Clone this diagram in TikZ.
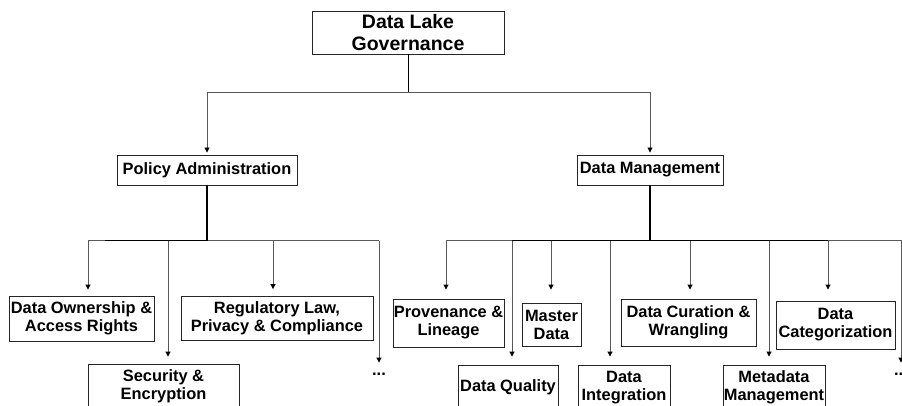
\documentclass[tikz,border=0pt]{standalone}
\usepackage{fontspec}
\setmainfont{Liberation Sans}
\usetikzlibrary{arrows.meta}
\begin{document}
\begin{tikzpicture}[x=1pt,y=-1pt,
  box/.style={draw=black!85, line width=0.9pt, fill=white, inner sep=0pt,
    align=center, font=\bfseries\fontsize{16.4}{18}\selectfont},
  topbox/.style={box, font=\bfseries\fontsize{19.5}{22}\selectfont},
  link/.style={draw=black!65, line width=0.9pt},
  stem/.style={draw=black, line width=1.1pt},
  feed/.style={link, -{Triangle[width=5pt,length=5pt,color=black]}},
  dots/.style={inner sep=0pt, font=\bfseries\fontsize{16.4}{18}\selectfont}]
\useasboundingbox (0,0) rectangle (902,406);
\clip (0,0) rectangle (902,406);

% root and first level
\node[topbox, minimum width=192pt, minimum height=43pt] (root) at (408,32.5) {Data Lake\\Governance};
\node[box, minimum width=180pt, minimum height=30pt] (pa) at (207,170) {Policy Administration};
\node[box, minimum width=146pt, minimum height=30pt] (dm) at (650,170) {Data Management};

% policy administration children
\node[box, minimum width=145pt, minimum height=45pt] (own) at (81.5,318.5) {Data Ownership \&\\Access Rights};
\node[box, minimum width=192pt, minimum height=44pt] (reg) at (277,318.5) {Regulatory Law,\\Privacy \& Compliance};
\node[box, minimum width=151pt, minimum height=45pt] (sec) at (163.5,386.5) {Security \&\\Encryption};
\node[dots] (pmore) at (379,374) {...};

% data management children
\node[box, minimum width=111pt, minimum height=48pt] (prov) at (448.5,323) {Provenance \&\\Lineage};
\node[box, minimum width=59pt, minimum height=43pt] (mast) at (551.5,324.5) {Master\\Data};
\node[box, minimum width=135pt, minimum height=47pt] (cur) at (688.5,322.5) {Data Curation \&\\Wrangling};
\node[box, minimum width=119pt, minimum height=48pt] (cat) at (835.5,325) {Data\\Categorization};
\node[box, minimum width=100pt, minimum height=45pt] (qual) at (508,387.5) {Data Quality};
\node[box, minimum width=92pt, minimum height=45pt] (integ) at (624,387.5) {Data\\Integration};
\node[box, minimum width=102pt, minimum height=45pt] (meta) at (774,387.5) {Metadata\\Management};
\node[dots] (dmore) at (901,374) {...};

% branch points
\coordinate (rootfork) at (408,92);
\coordinate (pafork) at (207,240.5);
\coordinate (dmfork) at (650,240.5);
\coordinate (p1) at (88,240.5);
\coordinate (p2) at (168,240.5);
\coordinate (p3) at (273,240.5);
\coordinate (p4) at (379,240.5);
\coordinate (pbold) at (105,240.5);
\coordinate (d1) at (446,240.5);
\coordinate (d2) at (512,240.5);
\coordinate (d3) at (551,240.5);
\coordinate (d4) at (610,240.5);
\coordinate (d5) at (690,240.5);
\coordinate (d6) at (769,240.5);
\coordinate (d7) at (828,240.5);
\coordinate (d8) at (901,240.5);

% root to first level
\draw[stem, line width=0.9pt] (root.south) -- (rootfork);
\draw[feed, shorten >=2pt] (rootfork) -| (pa.north);
\draw[feed, shorten >=2pt] (rootfork) -| (dm.north);

% policy administration branch
\draw[link] (p1) -- (p4);
\draw[stem] (pbold) -- (pafork);
\draw[stem] (pa.south) -- (pafork);
\draw[feed, shorten >=6pt] (p1) -- (p1 |- own.north);
\draw[feed, shorten >=7pt] (p2) -- (p2 |- sec.north);
\draw[feed, shorten >=7pt] (p3) -- (p3 |- reg.north);
\draw[feed, shorten >=10pt] (p4) -- (p4 |- pmore.north);

% data management branch
\draw[link] (d1) -- (d8) -- ++(5,0);
\draw[stem, line width=1pt] (d2) -- (d7);
\draw[stem] (dm.south) -- (dmfork);
\draw[feed, shorten >=9pt] (d1) -- (d1 |- prov.north);
\draw[feed, shorten >=8pt] (d2) -- (d2 |- qual.north);
\draw[feed, shorten >=13pt] (d3) -- (d3 |- mast.north);
\draw[feed, shorten >=8pt] (d4) -- (d4 |- integ.north);
\draw[feed, shorten >=9pt] (d5) -- (d5 |- cur.north);
\draw[feed, shorten >=8pt] (d6) -- (d6 |- meta.north);
\draw[feed, shorten >=11pt] (d7) -- (d7 |- cat.north);
\draw[feed, shorten >=10pt] (d8) -- (d8 |- dmore.north);
\end{tikzpicture}
\end{document}
